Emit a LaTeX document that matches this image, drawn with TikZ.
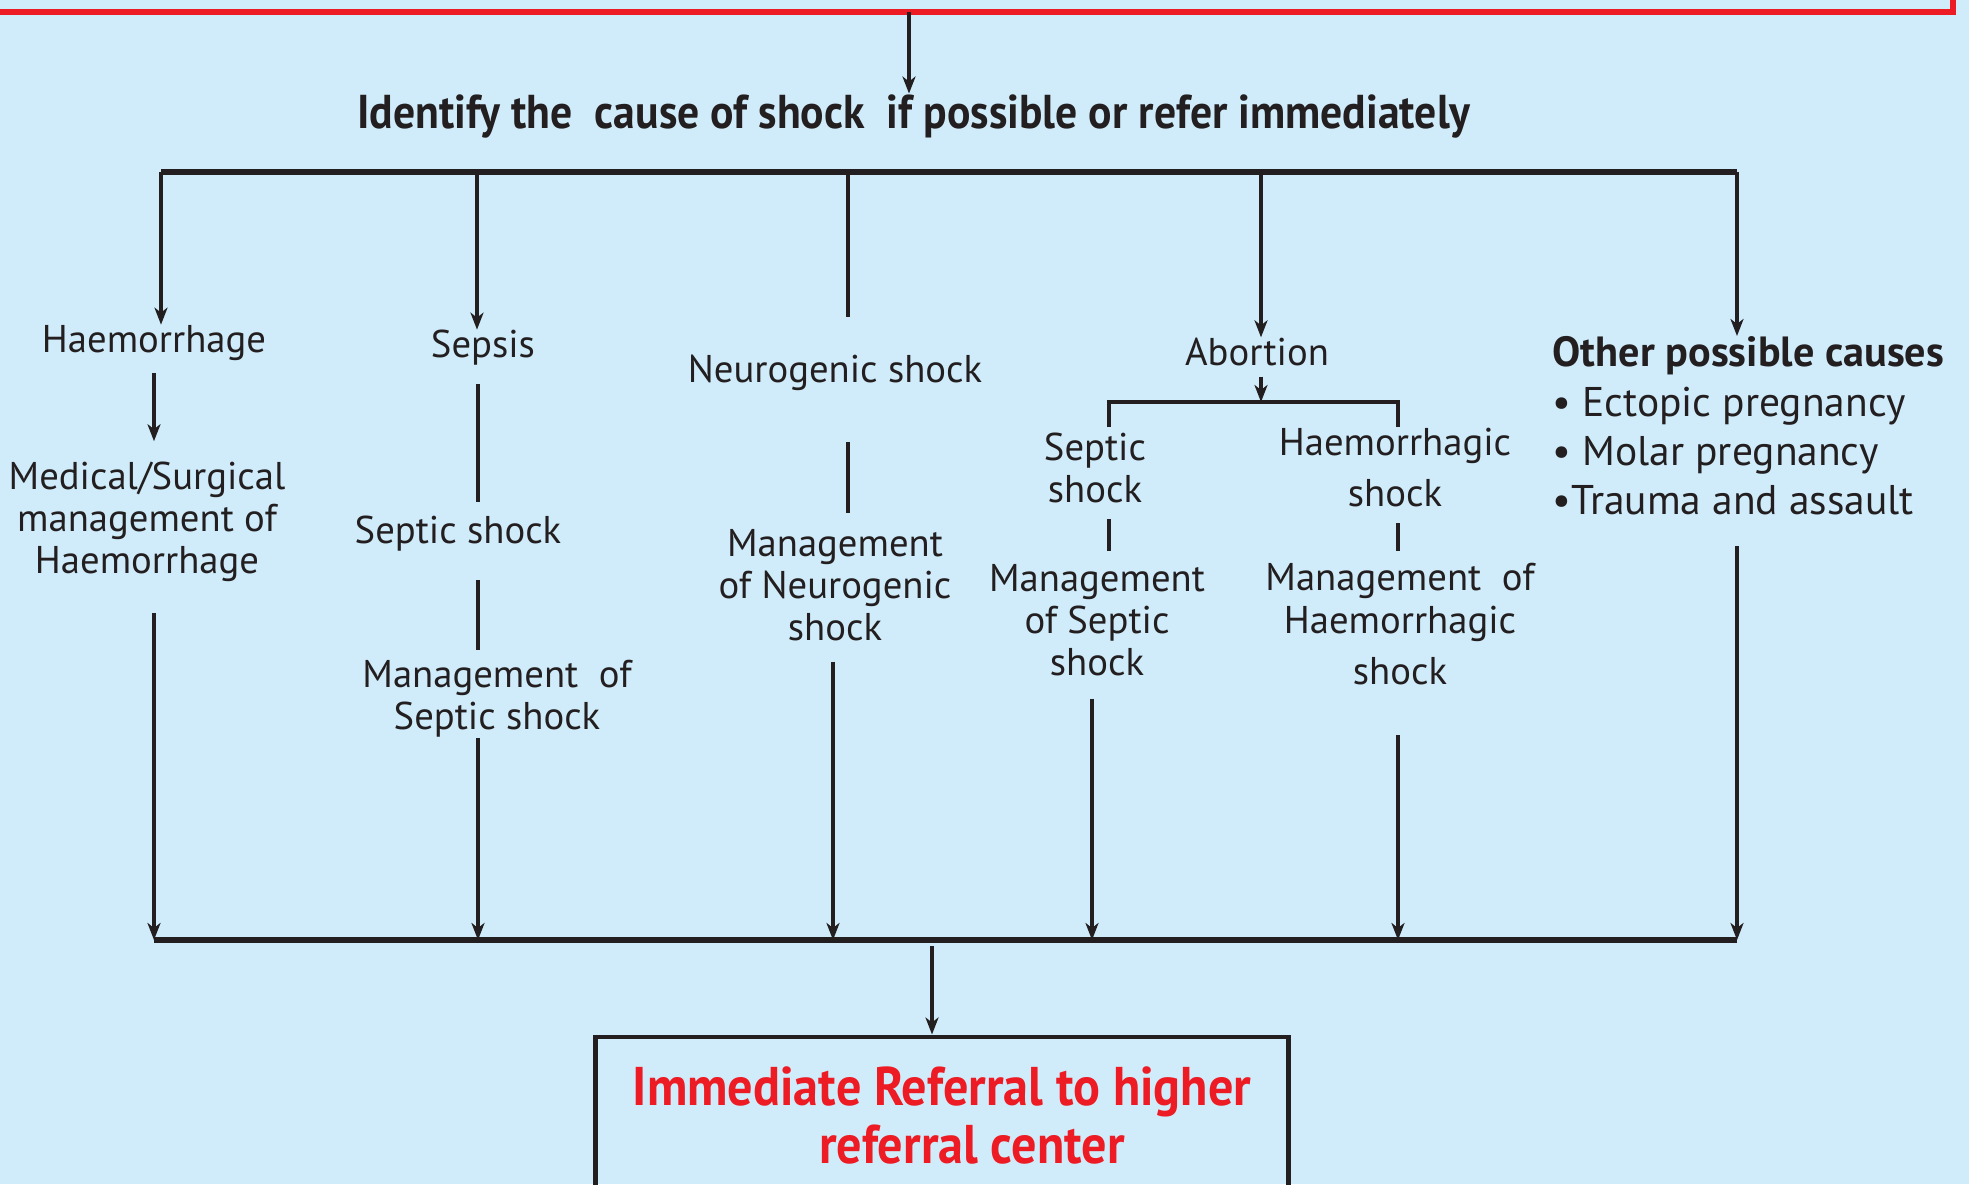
\documentclass[tikz,border=0pt]{standalone}
\usepackage{fontspec}
\setmainfont{PT Sans}
\newfontfamily\condfont{PT Sans}[FakeStretch=0.92]
\usetikzlibrary{arrows.meta, positioning, calc}
\definecolor{bgblue}{RGB}{208,236,250}
\definecolor{refred}{RGB}{237,28,36}
\definecolor{inkdark}{RGB}{35,31,32}

\begin{document}
\begin{tikzpicture}[x=0.01cm, y=-0.01cm,
  txt/.style={align=center, inner sep=0pt, text=inkdark, font=\fontsize{11}{12}\selectfont},
  link/.style={draw=inkdark, line width=1.2pt},
  arr/.style={link, -{Stealth[length=1.7mm, width=1.3mm, inset=0.5mm]}},
  bar/.style={draw=inkdark, line width=1.6pt}]

% background
\fill[bgblue] (0,0) rectangle (1969,1184);
\useasboundingbox (0,0) rectangle (1969,1184);

% red box above (only its lower edge shows)
\draw[refred, line width=1.8pt] (-20,12) -- (1953,12) -- (1953,-20);
\coordinate (redbox) at (909,12);

% heading
\node[txt, font=\condfont\bfseries\fontsize{13.5}{15}\selectfont] (head) at (914,116)
  {Identify the~ cause of shock~ if possible or refer immediately};
\draw[arr] (redbox) -- (redbox |- head.north);

% upper and lower bars
\coordinate (t1) at (161,172);
\coordinate (t2) at (477,172);
\coordinate (t3) at (848,172);
\coordinate (t4) at (1261,172);
\coordinate (t5) at (1737,172);
\coordinate (b1) at (154,940);
\coordinate (b2) at (478,940);
\coordinate (b3) at (833,940);
\coordinate (b4) at (1092,940);
\coordinate (b5) at (1398,940);
\coordinate (b6) at (1737,940);
\coordinate (bout) at (932,940);
\draw[bar] (t1) -- (t5);
\draw[bar] (b1) -- (b6);

% causes
\node[txt] (haem) at (154,343) {Haemorrhage};
\node[txt] (sepsis) at (483,348) {Sepsis};
\node[txt] (neuro) at (835,373) {Neurogenic shock};
\node[txt] (abort) at (1257,352) {Abortion};
\node[txt, align=left, anchor=north west, font=\fontsize{11.8}{14}\selectfont] (other) at (1552,336)
  {\textbf{\fontsize{12}{14}\selectfont Other possible causes}\\
   • Ectopic pregnancy\\
   • Molar pregnancy\\
   •Trauma and assault};

\draw[arr] (t1) -- (t1 |- haem.north);
\draw[arr] (t2) -- (t2 |- sepsis.north);
\draw[link, shorten >=0.37cm] (t3) -- (t3 |- neuro.north);
\draw[arr] (t4) -- (t4 |- abort.north);
\draw[arr] (t5) -- (t5 |- other.north);

% Haemorrhage branch
\node[txt] (msm) at (147,522) {Medical/Surgical\\management of\\Haemorrhage};
\draw[arr, shorten <=0.12cm, shorten >=0.2cm] (haem.south) -- (haem.south |- msm.north);
\draw[arr, shorten <=0.3cm] (msm.south -| b1) -- (b1);

% Sepsis branch
\node[txt] (sshock) at (458,534) {Septic shock};
\node[txt] (msep) at (497,699) {Management~ of\\Septic shock};
\draw[link, shorten <=0.18cm, shorten >=0.14cm] (sepsis.south -| b2) -- (sshock.north -| b2);
\draw[link, shorten <=0.28cm, shorten >=0.1cm] (sshock.south -| b2) -- (msep.north -| b2);
\draw[arr] (msep.south -| b2) -- (b2);

% Neurogenic branch
\node[txt] (mneuro) at (835,585) {Management\\of Neurogenic\\shock};
\draw[link, shorten <=0.5cm, shorten >=0.15cm] (neuro.south -| t3) -- (mneuro.north -| t3);
\draw[arr, shorten <=0.2cm] (mneuro.south -| b3) -- (b3);

% Abortion branch
\coordinate (ab) at (1261,402);
\coordinate (abl) at (1109,402);
\coordinate (abr) at (1398,402);
\node[txt] (asep) at (1095,468) {Septic\\shock};
\node[txt] (ahaem) at (1395,468) {Haemorrhagic\\[2.5pt]shock};
\node[txt] (masep) at (1097,620) {Management\\of Septic\\shock};
\node[txt] (mahaem) at (1400,624) {Management~ of\\Haemorrhagic\\[2.5pt]shock};
\draw[arr, shorten <=0.1cm] (abort.south -| ab) -- (ab);
\draw[link] (abl) ++(0,25) -- (abl) -- (abr) -- ++(0,25);
\draw[link, shorten <=0.15cm, shorten >=0.12cm] (asep.south -| abl) -- (masep.north -| abl);
\draw[link, shorten <=0.15cm, shorten >=0.12cm] (ahaem.south -| abr) -- (mahaem.north -| abr);
\draw[arr, shorten <=0.22cm] (masep.south -| b4) -- (b4);
\draw[arr, shorten <=0.5cm] (mahaem.south -| b5) -- (b5);

% Other causes
\draw[arr, shorten <=0.3cm] (other.south -| b6) -- (b6);

% referral box
\node[draw=inkdark, line width=1.4pt, minimum width=6.92cm, minimum height=1.56cm,
  align=center, text=refred, font=\condfont\bfseries\fontsize{15.5}{16.5}\selectfont] (refbox) at (942,1115)
  {Immediate Referral to higher\\\hspace*{1.1em}referral center};
\draw[arr, shorten <=0.06cm] (bout) -- (bout |- refbox.north);
\end{tikzpicture}
\end{document}
